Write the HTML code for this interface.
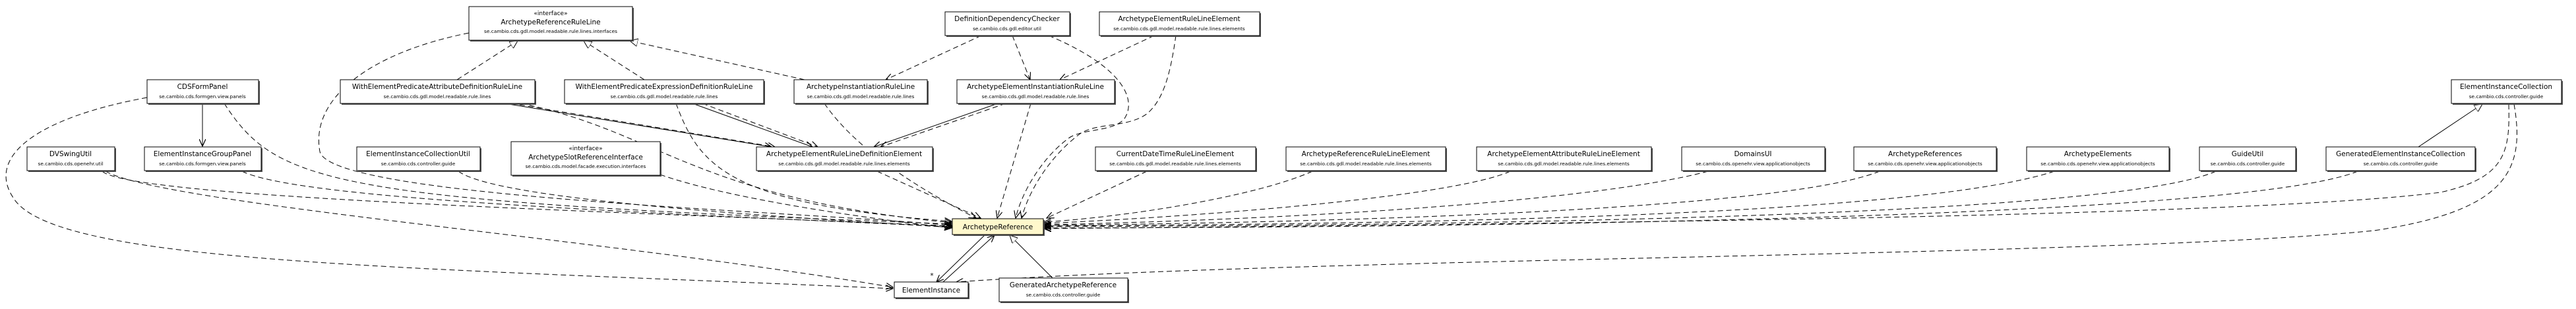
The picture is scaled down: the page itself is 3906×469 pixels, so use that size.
<!DOCTYPE html>
<html><head><meta charset="utf-8"><style>
html,body{margin:0;padding:0;background:#fff}
svg{display:block}
text{font-family:"DejaVu Sans","Liberation Sans",sans-serif;text-anchor:middle;fill:#000}
.n{font-size:10.5px}.p{font-size:7.4px}.s{font-size:9px}
.b{fill:#fff;stroke:#000;stroke-width:1}
.sh{fill:#555}
.d{fill:none;stroke:#000;stroke-width:1;stroke-dasharray:8,5}
.l{fill:none;stroke:#000;stroke-width:1}
</style></head><body>
<svg width="3906" height="469" viewBox="0 0 3906 469" xmlns="http://www.w3.org/2000/svg">
<defs>
<marker id="a" markerUnits="userSpaceOnUse" markerWidth="12" markerHeight="10" refX="11" refY="5" orient="auto"><path d="M0,0 L11,5 L0,10" fill="none" stroke="#000" stroke-width="1.2"/></marker>
<marker id="t" markerUnits="userSpaceOnUse" markerWidth="13" markerHeight="12" refX="12" refY="6" orient="auto"><path d="M0,0 L12,6 L0,12 Z" fill="#fff" stroke="#000"/></marker>
</defs>

<g>
<path class="d" marker-end="url(#t)" d="M693,121 L785,62"/>
<path class="d" marker-end="url(#t)" d="M977,121 L885,62"/>
<path class="d" marker-end="url(#t)" d="M1220,121 L955,62"/>
<path class="d" marker-end="url(#a)" d="M711,50 C560,80 470,150 485,230 C500,300 1200,320 1443,342"/>
<path class="d" marker-end="url(#a)" d="M340,157 C420,280 500,305 1443,340"/>
<path class="d" marker-end="url(#a)" d="M155,260 C200,300 900,320 1443,343"/>
<path class="d" marker-end="url(#a)" d="M160,260 C250,310 900,360 1354,436"/>
<path class="d" marker-end="url(#a)" d="M367,260 C450,300 900,320 1443,344"/>
<path class="d" marker-end="url(#a)" d="M695,260 C750,300 1100,325 1443,345"/>
<path class="d" marker-end="url(#a)" d="M1001,265 C1100,300 1300,330 1443,346"/>
<path class="d" marker-end="url(#a)" d="M790,157 C1000,200 1050,300 1443,338"/>
<path class="d" marker-end="url(#a)" d="M1025,157 C1060,250 1100,310 1443,336"/>
<path class="d" marker-end="url(#a)" d="M1250,157 C1300,230 1400,290 1480,331"/>
<path class="d" marker-end="url(#a)" d="M1330,260 L1487,331"/>
<path class="d" marker-end="url(#a)" d="M1563,157 L1512,331"/>
<path class="d" marker-end="url(#a)" d="M1590,54 C1700,100 1725,150 1705,180 C1690,200 1640,195 1620,210 C1580,240 1550,290 1540,331"/>
<path class="d" marker-end="url(#a)" d="M1783,54 C1775,110 1765,150 1740,172 C1710,195 1660,185 1635,205 C1590,240 1560,290 1549,331"/>
<path class="d" marker-end="url(#a)" d="M1739,260 L1587,331"/>
<path class="d" marker-end="url(#a)" d="M1990,260 C1900,300 1700,330 1583,337"/>
<path class="d" marker-end="url(#a)" d="M2290,260 C2200,300 1800,330 1583,339"/>
<path class="d" marker-end="url(#a)" d="M2590,260 C2400,310 1900,335 1583,341"/>
<path class="d" marker-end="url(#a)" d="M2850,260 C2700,320 2000,338 1583,342"/>
<path class="d" marker-end="url(#a)" d="M3115,260 C2900,330 2100,340 1583,343"/>
<path class="d" marker-end="url(#a)" d="M3360,260 C3200,330 2200,342 1583,344"/>
<path class="d" marker-end="url(#a)" d="M3575,260 C3400,330 2300,345 1583,346"/>
<path class="d" marker-end="url(#a)" d="M3804,158 C3806,230 3800,270 3700,292 C3400,330 2300,340 1583,347"/>
<path class="d" marker-end="url(#a)" d="M3812,158 C3830,260 3800,320 3600,350 C3200,390 2000,390 1450,428"/>
<path class="d" marker-end="url(#a)" d="M223,148 C50,180 -20,240 20,300 C80,400 600,405 1354,438"/>
<path class="d" marker-end="url(#a)" d="M1488,54 L1343,121"/>
<path class="d" marker-end="url(#a)" d="M1535,54 L1562,121"/>
<path class="d" marker-end="url(#a)" d="M1750,54 L1607,121"/>
<path class="d" marker-end="url(#a)" d="M775,157 L1175,223"/>
<path class="d" marker-end="url(#a)" d="M1065,157 L1240,223"/>
<path class="d" marker-end="url(#a)" d="M1525,157 L1335,223"/>
<path class="l" marker-end="url(#a)" d="M307,157 L307,222"/>
<path class="l" marker-end="url(#a)" d="M765,157 L1170,223"/>
<path class="l" marker-end="url(#a)" d="M1050,157 L1232,223"/>
<path class="l" marker-end="url(#a)" d="M1513,157 L1325,223"/>
<path class="l" marker-end="url(#a)" d="M1493,357 L1420,428"/>
<path class="l" marker-end="url(#a)" d="M1430,428 L1508,357"/>
<path class="l" marker-end="url(#t)" d="M1597,423 L1531,357"/>
<path class="l" marker-end="url(#t)" d="M3667,223 L3764,158"/>
</g>
<text x="1413" y="422" class="n">*</text>

<g>
<rect class="sh" x="713" y="12" width="248" height="51"/><rect class="b" x="711" y="10" width="248" height="51"/>
<text x="835" y="23" class="s">«interface»</text><text x="835" y="37" class="n">ArchetypeReferenceRuleLine</text><text x="835" y="50" class="p">se.cambio.cds.gdl.model.readable.rule.lines.interfaces</text>

<rect class="sh" x="1435" y="20" width="189" height="36"/><rect class="b" x="1433" y="18" width="189" height="36"/>
<text x="1527" y="32" class="n">DefinitionDependencyChecker</text><text x="1527" y="46" class="p">se.cambio.cds.gdl.editor.util</text>

<rect class="sh" x="1669" y="20" width="243" height="36"/><rect class="b" x="1667" y="18" width="243" height="36"/>
<text x="1788" y="32" class="n">ArchetypeElementRuleLineElement</text><text x="1788" y="46" class="p">se.cambio.cds.gdl.model.readable.rule.lines.elements</text>

<rect class="sh" x="225" y="123" width="169" height="36"/><rect class="b" x="223" y="121" width="169" height="36"/>
<text x="307" y="135" class="n">CDSFormPanel</text><text x="307" y="149" class="p">se.cambio.cds.formgen.view.panels</text>

<rect class="sh" x="518" y="123" width="295" height="36"/><rect class="b" x="516" y="121" width="295" height="36"/>
<text x="663" y="135" class="n">WithElementPredicateAttributeDefinitionRuleLine</text><text x="663" y="149" class="p">se.cambio.cds.gdl.model.readable.rule.lines</text>

<rect class="sh" x="858" y="123" width="302" height="36"/><rect class="b" x="856" y="121" width="302" height="36"/>
<text x="1007" y="135" class="n">WithElementPredicateExpressionDefinitionRuleLine</text><text x="1007" y="149" class="p">se.cambio.cds.gdl.model.readable.rule.lines</text>

<rect class="sh" x="1206" y="123" width="202" height="36"/><rect class="b" x="1204" y="121" width="202" height="36"/>
<text x="1305" y="135" class="n">ArchetypeInstantiationRuleLine</text><text x="1305" y="149" class="p">se.cambio.cds.gdl.model.readable.rule.lines</text>

<rect class="sh" x="1453" y="123" width="239" height="36"/><rect class="b" x="1451" y="121" width="239" height="36"/>
<text x="1570" y="135" class="n">ArchetypeElementInstantiationRuleLine</text><text x="1570" y="149" class="p">se.cambio.cds.gdl.model.readable.rule.lines</text>

<rect class="sh" x="3719" y="123" width="167" height="36"/><rect class="b" x="3717" y="121" width="167" height="36"/>
<text x="3800" y="135" class="n">ElementInstanceCollection</text><text x="3800" y="149" class="p">se.cambio.cds.controller.guide</text>

<rect class="sh" x="43" y="225" width="133" height="36"/><rect class="b" x="41" y="223" width="133" height="36"/>
<text x="107" y="237" class="n">DVSwingUtil</text><text x="107" y="251" class="p">se.cambio.cds.openehr.util</text>

<rect class="sh" x="221" y="225" width="177" height="36"/><rect class="b" x="219" y="223" width="177" height="36"/>
<text x="307" y="237" class="n">ElementInstanceGroupPanel</text><text x="307" y="251" class="p">se.cambio.cds.formgen.view.panels</text>

<rect class="sh" x="543" y="225" width="187" height="36"/><rect class="b" x="541" y="223" width="187" height="36"/>
<text x="634" y="237" class="n">ElementInstanceCollectionUtil</text><text x="634" y="251" class="p">se.cambio.cds.controller.guide</text>

<rect class="sh" x="777" y="217" width="226" height="51"/><rect class="b" x="775" y="215" width="226" height="51"/>
<text x="888" y="228" class="s">«interface»</text><text x="888" y="242" class="n">ArchetypeSlotReferenceInterface</text><text x="888" y="255" class="p">se.cambio.cds.model.facade.execution.interfaces</text>

<rect class="sh" x="1149" y="225" width="267" height="36"/><rect class="b" x="1147" y="223" width="267" height="36"/>
<text x="1280" y="237" class="n">ArchetypeElementRuleLineDefinitionElement</text><text x="1280" y="251" class="p">se.cambio.cds.gdl.model.readable.rule.lines.elements</text>

<rect class="sh" x="1663" y="225" width="243" height="36"/><rect class="b" x="1661" y="223" width="243" height="36"/>
<text x="1782" y="237" class="n">CurrentDateTimeRuleLineElement</text><text x="1782" y="251" class="p">se.cambio.cds.gdl.model.readable.rule.lines.elements</text>

<rect class="sh" x="1952" y="225" width="242" height="36"/><rect class="b" x="1950" y="223" width="242" height="36"/>
<text x="2071" y="237" class="n">ArchetypeReferenceRuleLineElement</text><text x="2071" y="251" class="p">se.cambio.cds.gdl.model.readable.rule.lines.elements</text>

<rect class="sh" x="2241" y="225" width="265" height="36"/><rect class="b" x="2239" y="223" width="265" height="36"/>
<text x="2371" y="237" class="n">ArchetypeElementAttributeRuleLineElement</text><text x="2371" y="251" class="p">se.cambio.cds.gdl.model.readable.rule.lines.elements</text>

<rect class="sh" x="2552" y="225" width="217" height="36"/><rect class="b" x="2550" y="223" width="217" height="36"/>
<text x="2658" y="237" class="n">DomainsUI</text><text x="2658" y="251" class="p">se.cambio.cds.openehr.view.applicationobjects</text>

<rect class="sh" x="2813" y="225" width="216" height="36"/><rect class="b" x="2811" y="223" width="216" height="36"/>
<text x="2919" y="237" class="n">ArchetypeReferences</text><text x="2919" y="251" class="p">se.cambio.cds.openehr.view.applicationobjects</text>

<rect class="sh" x="3075" y="225" width="216" height="36"/><rect class="b" x="3073" y="223" width="216" height="36"/>
<text x="3181" y="237" class="n">ArchetypeElements</text><text x="3181" y="251" class="p">se.cambio.cds.openehr.view.applicationobjects</text>

<rect class="sh" x="3337" y="225" width="146" height="36"/><rect class="b" x="3335" y="223" width="146" height="36"/>
<text x="3408" y="237" class="n">GuideUtil</text><text x="3408" y="251" class="p">se.cambio.cds.controller.guide</text>

<rect class="sh" x="3529" y="225" width="226" height="36"/><rect class="b" x="3527" y="223" width="226" height="36"/>
<text x="3640" y="237" class="n">GeneratedElementInstanceCollection</text><text x="3640" y="251" class="p">se.cambio.cds.controller.guide</text>

<rect class="sh" x="1446" y="334" width="138" height="24"/><rect x="1444" y="332" width="138" height="24" fill="#fff8cc" stroke="#000"/>
<text x="1513" y="348" class="n">ArchetypeReference</text>

<rect class="sh" x="1358" y="430" width="112" height="24"/><rect class="b" x="1356" y="428" width="112" height="24"/>
<text x="1412" y="444" class="n">ElementInstance</text>

<rect class="sh" x="1517" y="424" width="195" height="36"/><rect class="b" x="1515" y="422" width="195" height="36"/>
<text x="1612" y="436" class="n">GeneratedArchetypeReference</text><text x="1612" y="450" class="p">se.cambio.cds.controller.guide</text>
</g>
</svg>
</body></html>
